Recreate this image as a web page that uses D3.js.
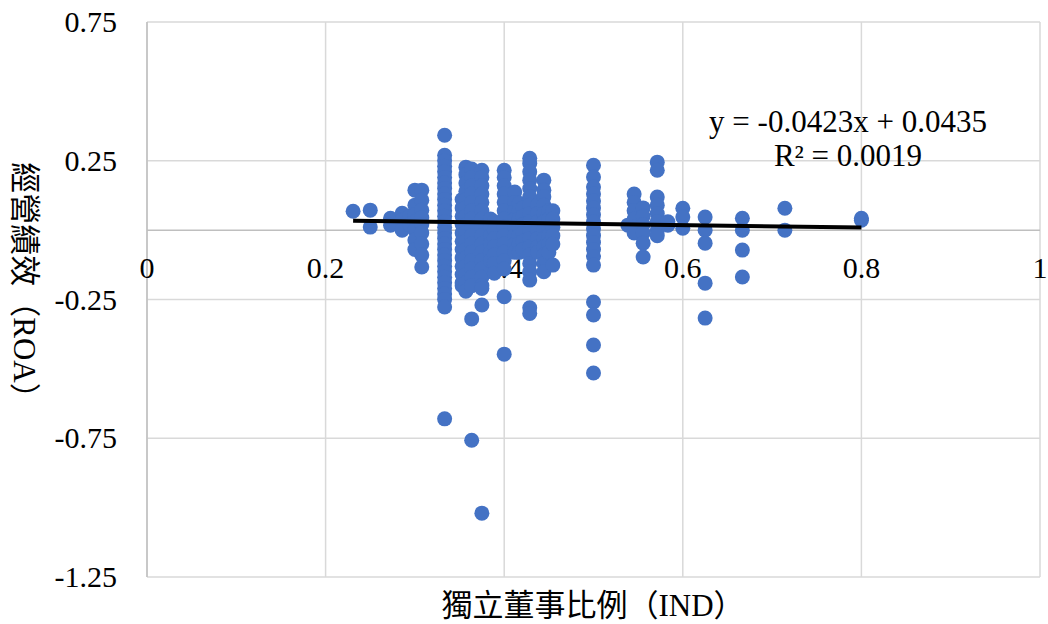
<!DOCTYPE html>
<html><head><meta charset="utf-8">
<script src="https://cdn.jsdelivr.net/npm/d3@7"></script>
<style>
html,body{margin:0;padding:0;background:#fff;}
svg{display:block;}
</style></head>
<body>
<svg id="chart" width="1048" height="624"></svg>
<script>
// Independent-director ratio levels (x) and ROA values observed at each level (y)
const indLevels = [0.2308, 0.25, 0.2727, 0.2857, 0.2941, 0.3, 0.3077, 0.3333, 0.3529, 0.3571, 0.3636, 0.375, 0.3846, 0.3889, 0.4, 0.4118, 0.4167, 0.4211, 0.4286, 0.4375, 0.4444, 0.45, 0.4545, 0.5, 0.5385, 0.5455, 0.5556, 0.5714, 0.5833, 0.6, 0.625, 0.6667, 0.7143, 0.8];
const roaByLevel = [
  [0.068],
  [0.072, 0.011],
  [0.043, 0.018],
  [0.061, 0.036, 0.0],
  [0.05, 0.02],
  [0.144, 0.09, 0.055, 0.03, 0.0, -0.036, -0.07],
  [0.144, 0.108, 0.072, 0.045, 0.02, -0.01, -0.05, -0.09, -0.133],
  [0.342, 0.27, 0.25, 0.23, 0.21, 0.19, 0.17, 0.15, 0.13, 0.11, 0.09, 0.07, 0.05, 0.03, 0.01, -0.01, -0.03, -0.05, -0.07, -0.09, -0.11, -0.13, -0.15, -0.17, -0.19, -0.21, -0.23, -0.25, -0.277, -0.68],
  [0.11, 0.08, 0.05, 0.02, -0.01, -0.04, -0.07, -0.1, -0.13, -0.16, -0.19, -0.2],
  [0.227, 0.2, 0.17, 0.14, 0.11, 0.08, 0.05, 0.02, -0.01, -0.04, -0.07, -0.1, -0.13, -0.16, -0.19, -0.22],
  [0.22, 0.19, 0.16, 0.13, 0.1, 0.07, 0.04, 0.01, -0.02, -0.05, -0.08, -0.11, -0.14, -0.17, -0.2, -0.32, -0.757],
  [0.216, 0.19, 0.16, 0.13, 0.1, 0.07, 0.04, 0.01, -0.02, -0.05, -0.08, -0.11, -0.14, -0.17, -0.2, -0.21, -0.27, -1.02],
  [0.04, 0.01, -0.02, -0.05, -0.08, -0.11],
  [0.03, 0.0, -0.03, -0.06, -0.09, -0.12, -0.155],
  [0.216, 0.19, 0.16, 0.13, 0.1, 0.07, 0.04, 0.01, -0.02, -0.05, -0.08, -0.11, -0.14, -0.24, -0.447],
  [0.137, 0.1, 0.07, 0.04, 0.01, -0.02, -0.05, -0.08],
  [0.097, 0.07, 0.04, 0.01, -0.02, -0.05, -0.08],
  [0.08, 0.05, 0.02, -0.01, -0.04, -0.07],
  [0.259, 0.24, 0.21, 0.18, 0.15, 0.12, 0.09, 0.06, 0.03, 0.0, -0.03, -0.06, -0.09, -0.12, -0.15, -0.18, -0.28, -0.3],
  [0.09, 0.06, 0.03, 0.0, -0.03, -0.06, -0.08],
  [0.18, 0.144, 0.12, 0.09, 0.06, 0.03, 0.0, -0.03, -0.06, -0.09, -0.12, -0.15],
  [0.07, 0.04, 0.01, -0.02, -0.05, -0.08],
  [0.07, 0.04, 0.01, -0.02, -0.05, -0.126],
  [0.234, 0.191, 0.155, 0.13, 0.105, 0.08, 0.055, 0.03, 0.005, -0.02, -0.045, -0.07, -0.095, -0.126, -0.259, -0.306, -0.414, -0.515],
  [0.018],
  [0.13, 0.1, 0.07, 0.04, 0.01, -0.01],
  [0.08, 0.05, 0.02, -0.01, -0.047, -0.097],
  [0.245, 0.216, 0.119, 0.09, 0.06, 0.03, 0.0, -0.02],
  [0.018, 0.03],
  [0.079, 0.047, 0.007],
  [0.047, 0.0, -0.047, -0.191, -0.317],
  [0.043, 0.0, -0.072, -0.169],
  [0.079, 0.0],
  [0.036, 0.043]
];
const xTicks = [0, 0.2, 0.4, 0.6, 0.8, 1];
const xTickLabels = ["0", "0.2", "0.4", "0.6", "0.8", "1"];
const yTicks = [0.75, 0.25, -0.25, -0.75, -1.25];
const yTickLabels = ["0.75", "0.25", "-0.25", "-0.75", "-1.25"];
const trendSlope = -0.0423;
const trendIntercept = 0.0435;
const trendLabel = "y = -0.0423x + 0.0435";
const r2Label = "R² = 0.0019";
const xTitle = "獨立董事比例（IND）";
const yTitle = "經營績效（ROA）";

(function () {
const points = [];
indLevels.forEach((xv, i) => roaByLevel[i].forEach(yv => points.push([xv, yv])));

const svg = d3.select("#chart");
const pL = 147, pR = 1040, pT = 22, pB = 577;
const x = d3.scaleLinear().domain([0, 1]).range([pL, pR]);
const y = d3.scaleLinear().domain([-1.25, 0.75]).range([pB, pT]);
const serif = "'Liberation Serif','Times New Roman','Noto Sans CJK TC',serif";

// gridlines
svg.append("g").selectAll("line").data(xTicks).join("line")
  .attr("x1", d => x(d)).attr("x2", d => x(d))
  .attr("y1", pT).attr("y2", pB)
  .attr("stroke", "#d9d9d9").attr("stroke-width", 1.5);
svg.append("g").selectAll("line").data(yTicks).join("line")
  .attr("x1", pL).attr("x2", pR)
  .attr("y1", d => y(d)).attr("y2", d => y(d))
  .attr("stroke", "#d9d9d9").attr("stroke-width", 1.5);

// axis lines
svg.append("line").attr("x1", pL).attr("x2", pR).attr("y1", y(0)).attr("y2", y(0))
  .attr("stroke", "#bfbfbf").attr("stroke-width", 1.5);
svg.append("line").attr("x1", pL).attr("x2", pL).attr("y1", pT).attr("y2", pB)
  .attr("stroke", "#bfbfbf").attr("stroke-width", 1.5);

// y tick labels
svg.append("g").selectAll("text").data(yTicks).join("text")
  .attr("x", 117).attr("y", d => y(d) + 10)
  .attr("text-anchor", "end")
  .attr("font-family", serif).attr("font-size", 30).attr("fill", "#000")
  .text((d, i) => yTickLabels[i]);

// x tick labels
svg.append("g").selectAll("text").data(xTicks).join("text")
  .attr("x", d => x(d)).attr("y", y(0) + 48)
  .attr("text-anchor", "middle")
  .attr("font-family", serif).attr("font-size", 30).attr("fill", "#000")
  .text((d, i) => xTickLabels[i]);

// points
svg.append("g").selectAll("circle").data(points).join("circle")
  .attr("cx", d => x(d[0])).attr("cy", d => y(d[1]))
  .attr("r", 7.5).attr("fill", "#4472C4");

// trendline
const xMin = d3.min(indLevels), xMax = d3.max(indLevels);
svg.append("line")
  .attr("x1", x(xMin)).attr("y1", y(trendSlope * xMin + trendIntercept))
  .attr("x2", x(xMax)).attr("y2", y(trendSlope * xMax + trendIntercept))
  .attr("stroke", "#000").attr("stroke-width", 4);

// trend equation
svg.append("text").attr("x", 848).attr("y", 132).attr("text-anchor", "middle")
  .attr("font-family", serif).attr("font-size", 31).text(trendLabel);
svg.append("text").attr("x", 848).attr("y", 166).attr("text-anchor", "middle")
  .attr("font-family", serif).attr("font-size", 31).text(r2Label);

// axis titles
svg.append("text").attr("x", 593).attr("y", 616).attr("text-anchor", "middle")
  .attr("font-family", serif).attr("font-size", 31).text(xTitle);
svg.append("text").attr("transform", "translate(14,288) rotate(90)").attr("text-anchor", "middle")
  .attr("font-family", serif).attr("font-size", 31).text(yTitle);
})();
</script>
</body></html>
